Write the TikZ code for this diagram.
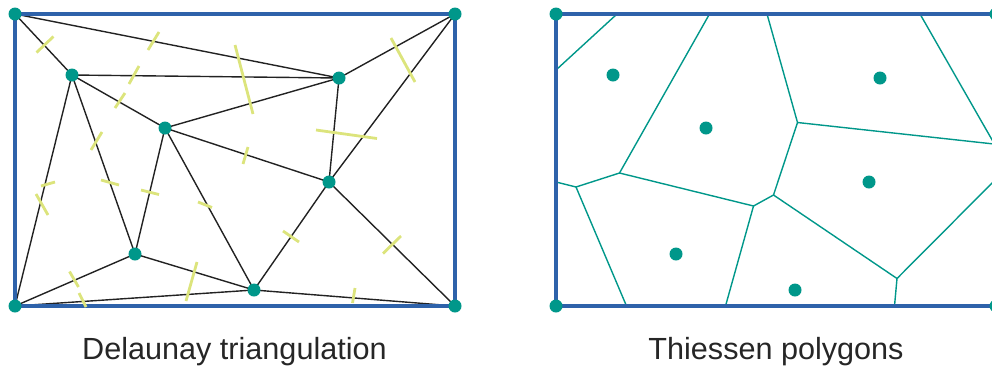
\documentclass[tikz,border=0pt]{standalone}
\usepackage{fontspec}
\setmainfont{Liberation Sans}
\definecolor{bordblue}{HTML}{2E62AA}
\definecolor{teal}{HTML}{00978A}
\definecolor{lime}{HTML}{DCE47C}
\definecolor{edgeblk}{HTML}{222222}
\begin{document}
\begin{tikzpicture}[x=1pt,y=-1pt,
  frame/.style={draw=bordblue,line width=3.2pt},
  tri/.style={draw=edgeblk,line width=1.4pt},
  tick/.style={draw=lime,line width=2.8pt},
  vor/.style={draw=teal,line width=1.4pt},
  site/.style={circle,fill=teal,inner sep=0pt,minimum size=13pt},
  label/.style={font=\fontsize{30.6}{36}\selectfont,text=black!85,anchor=base}]
\clip (0,0) rectangle (992,368);
\useasboundingbox (0,0) rectangle (992,368);
% ---------- left: Delaunay ----------
\coordinate (A) at (15,14);
\coordinate (B) at (455,14);
\coordinate (C) at (15,306);
\coordinate (D) at (455,306);
\coordinate (P1) at (72,75);
\coordinate (P2) at (339,78);
\coordinate (P3) at (165,128);
\coordinate (P4) at (329,182);
\coordinate (P5) at (135,254);
\coordinate (P6) at (254,290);
\draw[tri] (A)--(P1) (A)--(P2) (P1)--(P2) (P1)--(P3) (P1)--(C) (P1)--(P5)
  (P3)--(P2) (P3)--(P4) (P3)--(P5) (P3)--(P6) (P2)--(B) (P2)--(P4) (B)--(P4)
  (P4)--(P6) (P4)--(D) (P5)--(C) (P5)--(P6) (C)--(P6) (P6)--(D);
\draw[frame] (A) rectangle (D);
% bisector ticks
\draw[tick] (36.5,52.5)--(53.5,36.5);
\draw[tick] (148,50)--(159,32);
\draw[tick] (129,84)--(139,66);
\draw[tick] (115,108)--(125,93);
\draw[tick] (91,150)--(102,132);
\draw[tick] (235,45)--(253,114);
\draw[tick] (391,38)--(415,82);
\draw[tick] (316,130)--(377,138.5);
\draw[tick] (248,147)--(243,164);
\draw[tick] (41,186)--(55,182);
\draw[tick] (36,194)--(48,215);
\draw[tick] (101,180)--(119,185);
\draw[tick] (141,190)--(159,194.5);
\draw[tick] (198,202)--(212,207.5);
\draw[tick] (69.5,271.5)--(78.5,287);
\draw[tick] (79,293)--(86,307);
\draw[tick] (197,262)--(186,301);
\draw[tick] (283,231)--(299,242);
\draw[tick] (401,236)--(383,253.5);
\draw[tick] (355,288)--(352.5,303);
\foreach \p in {A,B,C,D,P1,P2,P3,P4,P5,P6}
  \node[site] (n\p) at (\p) {};
% ---------- right: Thiessen ----------
\coordinate (RA) at (556,14);
\coordinate (RB) at (996,14);
\coordinate (RC) at (556,306);
\coordinate (RD) at (996,306);
\coordinate (Q1) at (613,75);
\coordinate (Q2) at (880,78);
\coordinate (Q3) at (706,128);
\coordinate (Q4) at (869,182);
\coordinate (Q5) at (676,254);
\coordinate (Q6) at (795,290);
% Voronoi vertices
\coordinate (V1) at (576,187);
\coordinate (V2) at (619.5,173);
\coordinate (V3) at (753.5,206);
\coordinate (V4) at (773.5,195);
\coordinate (V5) at (797.5,122.5);
\coordinate (V6) at (897,278.5);
\draw[vor] (617,14)--(556,70);
\draw[vor] (709.5,14)--(V2);
\draw[vor] (556,182)--(V1)--(V2)--(V3)--(V4)--(V5)--(767,14);
\draw[vor] (V1)--(626.5,306);
\draw[vor] (V3)--(725.5,306);
\draw[vor] (V4)--(V6)--(894.5,306);
\draw[vor] (V6)--(1003,172);
\draw[vor] (V5)--(1003,145);
\draw[vor] (920,14)--(1003,159);
\draw[frame] (RA) rectangle (RD);
\foreach \p in {RA,RB,RC,RD,Q1,Q2,Q3,Q4,Q5,Q6}
  \node[site] (n\p) at (\p) {};
% ---------- labels ----------
\node[label] (t1) at (234.5,359.5) {Delaunay triangulation};
\node[label] (t2) at (776,359.5) {Thiessen polygons};
\end{tikzpicture}
\end{document}
